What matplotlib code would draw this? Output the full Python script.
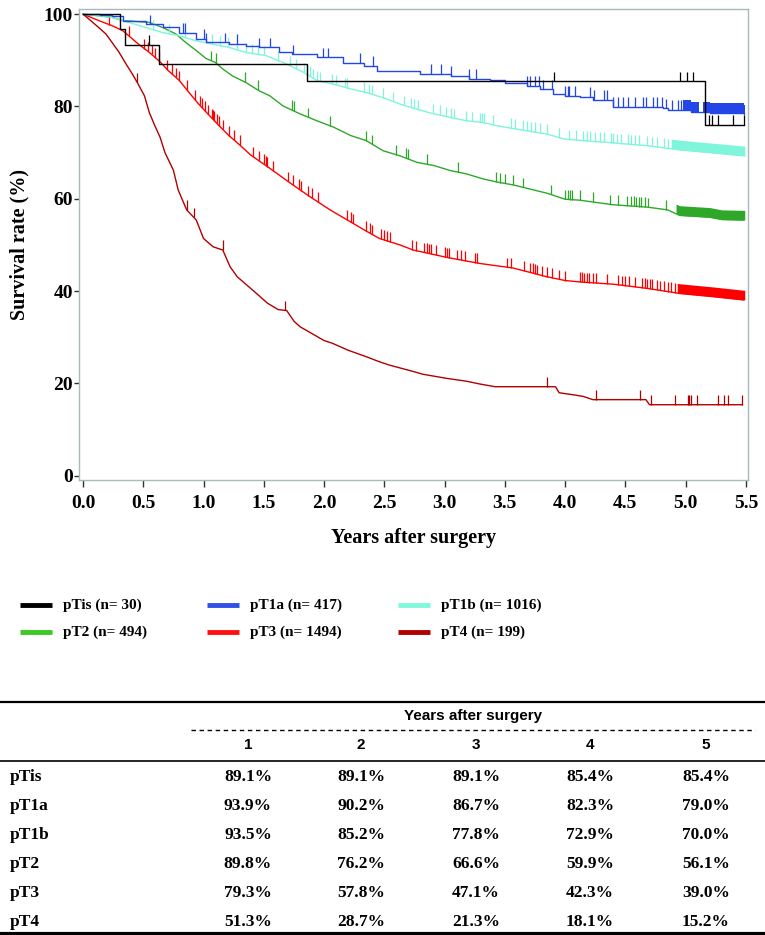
"""
Kaplan-Meier survival by pT category, with 1-5 year survival table
"""

import numpy as np
import matplotlib
matplotlib.use("Agg")
import matplotlib.pyplot as plt
from matplotlib.lines import Line2D

# ---- data (years, survival %) ----
names = ["pTis", "pT1a", "pT1b", "pT2", "pT3", "pT4"]
n_patients = [30, 417, 1016, 494, 1494, 199]
colors = ["#000000", "#2446e6", "#7ff5dc", "#2fa82a", "#ff0000", "#b00000"]
legend_colors = ["#000000", "#3050e8", "#80f8dc", "#3cc822", "#ff1010", "#b00000"]
stepped = ["pTis", "pT1a"]

pTis_t = [0, 0.31, 0.35, 0.63, 1.86, 5.16, 5.48]
pTis_s = [100, 96.7, 93.3, 89.1, 85.4, 76.0, 76.0]

pT1a_t = [0, 0.14, 0.24, 0.33, 0.52, 0.66, 0.80, 0.94, 1.02, 1.21,
          1.35, 1.46, 1.63, 1.73, 1.94, 2.16, 2.33, 2.44, 2.80, 3.05,
          3.20, 3.38, 3.50, 3.68, 3.79, 3.90, 4.00, 4.12, 4.23, 4.40,
          4.81, 4.85, 5.04, 5.20, 5.48]
pT1a_s = [100, 99.7, 99.5, 98.6, 97.8, 97.1, 96.0, 94.6, 93.9, 93.5,
          93.1, 92.8, 91.7, 91.3, 90.6, 89.5, 88.8, 87.7, 87.0, 86.6,
          85.9, 85.7, 85.0, 84.4, 83.7, 82.8, 82.3, 82.1, 81.4, 79.9,
          79.6, 79.2, 78.9, 78.6, 78.3]

pT1b_t = [0, 0.24, 0.38, 0.52, 0.66, 0.80, 0.94, 1.07, 1.21, 1.35,
          1.52, 1.66, 1.83, 1.94, 2.08, 2.22, 2.35, 2.49, 2.63, 2.77,
          2.91, 3.05, 3.18, 3.32, 3.44, 3.57, 3.85, 4.00, 4.20, 4.40,
          4.68, 4.95, 5.20, 5.49]
pT1b_s = [100, 99.3, 98.2, 97.1, 96.0, 95.3, 94.2, 93.5, 92.8, 91.7,
          91.0, 89.5, 87.4, 85.6, 84.8, 83.8, 83.0, 81.9, 80.5, 79.4,
          78.4, 77.6, 76.9, 76.5, 75.8, 75.2, 74.0, 72.9, 72.5, 72.1,
          71.5, 70.6, 70.0, 69.3]

pT2_t = [0, 0.24, 0.33, 0.55, 0.66, 0.77, 0.85, 0.94, 1.02, 1.10,
         1.16, 1.24, 1.35, 1.46, 1.55, 1.66, 1.80, 1.94, 2.08, 2.22,
         2.35, 2.49, 2.63, 2.77, 2.91, 3.05, 3.18, 3.32, 3.44, 3.57,
         3.85, 4.00, 4.12, 4.40, 4.68, 4.85, 4.95, 5.20, 5.30, 5.48]
pT2_s = [100, 99.3, 98.6, 98.2, 97.1, 95.7, 93.9, 92.1, 90.4, 89.5,
         88.1, 86.6, 85.2, 83.4, 82.3, 80.1, 78.4, 76.9, 75.5, 73.7,
         72.6, 70.4, 69.3, 67.9, 67.2, 66.1, 65.4, 64.3, 63.6, 63.0,
         61.2, 59.9, 59.7, 58.7, 58.2, 57.6, 56.4, 56.0, 55.5, 55.4]

pT3_t = [0, 0.13, 0.24, 0.33, 0.38, 0.46, 0.55, 0.63, 0.71, 0.80,
         0.88, 0.96, 1.05, 1.13, 1.21, 1.29, 1.39, 1.55, 1.72, 1.88,
         2.05, 2.20, 2.35, 2.46, 2.63, 2.74, 3.02, 3.29, 3.57, 3.85,
         4.00, 4.12, 4.40, 4.68, 4.95, 5.23, 5.48]
pT3_s = [100, 98.6, 97.5, 96.4, 95.3, 93.5, 91.7, 89.9, 87.7, 85.6,
         83.0, 80.5, 78.0, 75.8, 73.7, 71.9, 69.5, 66.6, 63.4, 60.5,
         57.6, 55.3, 53.0, 51.4, 50.0, 48.9, 47.3, 46.0, 45.0, 43.1,
         42.3, 42.0, 41.5, 40.6, 39.5, 38.8, 38.1]

pT4_t = [0, 0.05, 0.13, 0.19, 0.24, 0.30, 0.35, 0.41, 0.45, 0.51,
         0.55, 0.59, 0.64, 0.68, 0.75, 0.79, 0.86, 0.94, 1.00, 1.08,
         1.16, 1.22, 1.28, 1.36, 1.47, 1.53, 1.62, 1.69, 1.75, 1.80,
         1.90, 2.00, 2.07, 2.20, 2.35, 2.46, 2.54, 2.74, 2.82, 3.02,
         3.18, 3.29, 3.42, 3.92, 3.95, 4.08, 4.15, 4.23, 4.67, 4.70,
         5.47]
pT4_s = [100, 98.9, 97.1, 95.7, 93.9, 91.7, 89.5, 87.0, 85.2, 82.3,
         78.7, 76.2, 73.3, 70.0, 66.2, 61.9, 57.6, 55.4, 51.4, 49.6,
         48.9, 45.3, 43.1, 41.3, 38.8, 37.4, 36.0, 35.8, 33.5, 32.3,
         30.8, 29.3, 28.7, 27.2, 25.8, 24.7, 24.0, 22.6, 22.0, 21.1,
         20.5, 19.9, 19.3, 19.3, 18.0, 17.5, 17.2, 16.5, 16.5, 15.4,
         15.4]

# censoring marks (years) and spans where the marks merge into a solid band
pTis_cens = [0.55, 3.91, 4.95, 5.01, 5.06, 5.19, 5.22, 5.27, 5.39, 5.48]
pT1a_cens = [0.56, 0.83, 0.85, 1.00, 1.02, 1.18, 1.28, 1.46, 1.55, 1.74,
             1.99, 2.03, 2.30, 2.41, 2.89, 2.97, 3.05, 3.20, 3.26, 3.68,
             3.71, 3.75, 3.78, 3.82, 3.89, 4.00, 4.02, 4.03, 4.08, 4.21,
             4.24, 4.32, 4.35, 4.40, 4.44, 4.48, 4.52, 4.58, 4.65, 4.67,
             4.73, 4.76, 4.80, 4.84, 4.89, 4.94, 4.96]
pT1b_cens = [0.58, 0.71, 0.85, 1.07, 1.14, 1.20, 1.28, 1.35, 1.40, 1.45,
             1.50, 1.62, 1.72, 1.77, 1.83, 1.86, 1.88, 1.91, 1.94, 1.97,
             2.07, 2.10, 2.17, 2.19, 2.33, 2.37, 2.40, 2.49, 2.57, 2.66,
             2.72, 2.75, 2.78, 2.90, 2.96, 3.01, 3.05, 3.08, 3.18, 3.23,
             3.29, 3.31, 3.33, 3.40, 3.55, 3.58, 3.65, 3.68, 3.72, 3.75,
             3.79, 3.85, 3.95, 4.03, 4.09, 4.15, 4.18, 4.21, 4.25, 4.29,
             4.32, 4.38, 4.40, 4.43, 4.46, 4.52, 4.55, 4.58, 4.61, 4.68,
             4.72, 4.76, 4.82, 4.85]
pT2_cens = [1.06, 1.10, 1.34, 1.45, 1.73, 1.75, 1.87, 2.05, 2.35, 2.40,
            2.60, 2.68, 2.70, 2.85, 3.11, 3.43, 3.46, 3.50, 3.57, 3.65,
            3.88, 4.00, 4.02, 4.04, 4.06, 4.12, 4.23, 4.37, 4.44, 4.51,
            4.55, 4.57, 4.59, 4.61, 4.63, 4.66, 4.69, 4.84]
pT3_cens = [0.22, 0.38, 0.51, 0.54, 0.57, 0.60, 0.63, 0.70, 0.74, 0.77,
            0.80, 0.86, 0.93, 0.97, 0.99, 1.01, 1.04, 1.07, 1.08, 1.09,
            1.11, 1.13, 1.16, 1.21, 1.25, 1.30, 1.41, 1.46, 1.50, 1.52,
            1.53, 1.58, 1.70, 1.74, 1.79, 1.81, 1.87, 1.90, 1.95, 2.19,
            2.22, 2.24, 2.35, 2.38, 2.40, 2.47, 2.50, 2.52, 2.55, 2.73,
            2.76, 2.83, 2.85, 2.87, 2.89, 2.93, 3.00, 3.02, 3.04, 3.10,
            3.14, 3.17, 3.25, 3.27, 3.52, 3.55, 3.66, 3.71, 3.73, 3.75,
            3.77, 3.81, 3.85, 3.89, 3.95, 4.00, 4.12, 4.14, 4.16, 4.18,
            4.20, 4.23, 4.26, 4.35, 4.44, 4.47, 4.50, 4.53, 4.58, 4.64,
            4.66, 4.68, 4.70, 4.72, 4.76, 4.79, 4.82, 4.85, 4.88, 4.91]
pT4_cens = [0.45, 0.86, 0.92, 1.16, 1.68, 3.85, 4.26, 4.62, 4.71, 4.91,
            5.02, 5.03, 5.04, 5.09, 5.27, 5.32, 5.35, 5.47]

pTis_bands = []
pT1a_bands = [(4.98, 5.11), (5.14, 5.49)]
pT1b_bands = [(4.88, 5.49)]
pT2_bands = [(4.92, 5.49)]
pT3_bands = [(4.93, 5.49)]
pT4_bands = []

# table of survival at 1-5 years
table_years = ["1", "2", "3", "4", "5"]
table_values = [
    ["89.1%", "89.1%", "89.1%", "85.4%", "85.4%"],
    ["93.9%", "90.2%", "86.7%", "82.3%", "79.0%"],
    ["93.5%", "85.2%", "77.8%", "72.9%", "70.0%"],
    ["89.8%", "76.2%", "66.6%", "59.9%", "56.1%"],
    ["79.3%", "57.8%", "47.1%", "42.3%", "39.0%"],
    ["51.3%", "28.7%", "21.3%", "18.1%", "15.2%"],
]

curves = {
    "pTis": (pTis_t, pTis_s, pTis_cens, pTis_bands),
    "pT1a": (pT1a_t, pT1a_s, pT1a_cens, pT1a_bands),
    "pT1b": (pT1b_t, pT1b_s, pT1b_cens, pT1b_bands),
    "pT2": (pT2_t, pT2_s, pT2_cens, pT2_bands),
    "pT3": (pT3_t, pT3_s, pT3_cens, pT3_bands),
    "pT4": (pT4_t, pT4_s, pT4_cens, pT4_bands),
}

W, H = 765, 935
SERIF = ["Liberation Serif", "DejaVu Serif"]
SANS = ["Liberation Sans", "DejaVu Sans"]
TICK_H = 2.1  # height of a censoring mark, in %


def fx(px):
    return px / W


def fy(py):
    return 1 - py / H


def surv_at(t, s, x, step):
    t = np.asarray(t)
    s = np.asarray(s)
    if step:
        idx = np.searchsorted(t, x, side="right") - 1
        return s[np.clip(idx, 0, len(s) - 1)]
    return np.interp(x, t, s)


fig = plt.figure(figsize=(W / 100, H / 100), dpi=100)
ax = fig.add_axes([fx(79), fy(480), fx(748 - 79), (480 - 9) / H])

# draw order: pT4/pT3/pT2/pT1b underneath, blue and black on top
order = ["pT4", "pT3", "pT2", "pT1b", "pT1a", "pTis"]
for name in order:
    i = names.index(name)
    t, s, cens, bands = curves[name]
    step = name in stepped
    col = colors[i]
    if step:
        ax.step(t, s, where="post", color=col, lw=1.0, zorder=3)
    else:
        ax.plot(t, s, color=col, lw=1.0, zorder=3)
    base = surv_at(t, s, np.asarray(cens), step)
    ax.vlines(cens, base, base + TICK_H, color=col, lw=0.9, zorder=3)
    for a, b in bands:
        ta = np.asarray(t)
        xs = np.concatenate([[a], ta[(ta > a) & (ta < b)], [b]])
        ys = surv_at(t, s, xs, step)
        ax.fill_between(xs, ys, ys + TICK_H, color=col, lw=0, zorder=3,
                        step="post" if step else None)

ax.set_xlim(-0.033, 5.517)
ax.set_ylim(-0.9, 101.1)
ax.set_xticks(np.arange(0, 5.51, 0.5))
ax.set_xticklabels([f"{v:.1f}" for v in np.arange(0, 5.51, 0.5)])
ax.set_yticks([0, 20, 40, 60, 80, 100])

spine_col = "#a9baba"
for sp in ax.spines.values():
    sp.set_color(spine_col)
    sp.set_linewidth(1.0)
ax.tick_params(axis="x", direction="out", length=5, width=1.0,
               color="#333333", pad=6, labelsize=14)
ax.tick_params(axis="y", direction="out", length=3.5, width=1.0,
               color="#333333", pad=1, labelsize=14)
for lbl in ax.get_xticklabels() + ax.get_yticklabels():
    lbl.set_fontfamily(SERIF)
    lbl.set_fontweight("bold")

ax.set_xlabel("Years after surgery", fontsize=14.5, fontweight="bold",
              family=SERIF, labelpad=11)
ax.set_ylabel("Survival rate (%)", fontsize=14.5, fontweight="bold",
              family=SERIF, labelpad=10)

# ---- legend (3 columns x 2 rows) ----
leg_x = [20, 207, 398]
leg_y = [605, 632]
for i, name in enumerate(names):
    row, col = divmod(i, 3)
    x0 = leg_x[col]
    y0 = leg_y[row]
    fig.add_artist(Line2D([fx(x0), fx(x0 + 32)], [fy(y0), fy(y0)],
                          transform=fig.transFigure, color=legend_colors[i],
                          lw=3.5, solid_capstyle="butt"))
    fig.text(fx(x0 + 43), fy(y0), f"{name} (n= {n_patients[i]})",
             fontsize=11, fontweight="bold", family=SERIF,
             ha="left", va="center")

# ---- survival table ----
col_x = [248, 361, 476, 590, 706]
row_y = [777, 806, 835, 864, 893, 922]


def hrule(py, lw, x0=0, x1=W, **kw):
    fig.add_artist(Line2D([fx(x0), fx(x1)], [fy(py), fy(py)],
                          transform=fig.transFigure, color="black", lw=lw,
                          **kw))


hrule(702, 1.6)
fig.text(fx(473), fy(716), "Years after surgery", fontsize=11,
         fontweight="bold", family=SANS, ha="center", va="center")
hrule(730, 1.0, x0=191, x1=755, linestyle=(0, (3.2, 2.6)))
for x, yr in zip(col_x, table_years):
    fig.text(fx(x), fy(745), yr, fontsize=11, fontweight="bold",
             family=SANS, ha="center", va="center")
hrule(760.5, 1.2)
for r, name in enumerate(names):
    fig.text(fx(10), fy(row_y[r]), name, fontsize=12.5, fontweight="bold",
             family=SERIF, ha="left", va="center")
    for x, v in zip(col_x, table_values[r]):
        fig.text(fx(x), fy(row_y[r]), v, fontsize=12.5, fontweight="bold",
                 family=SERIF, ha="center", va="center")
hrule(933.5, 3.0)

fig.savefig("out.png", dpi=100)
